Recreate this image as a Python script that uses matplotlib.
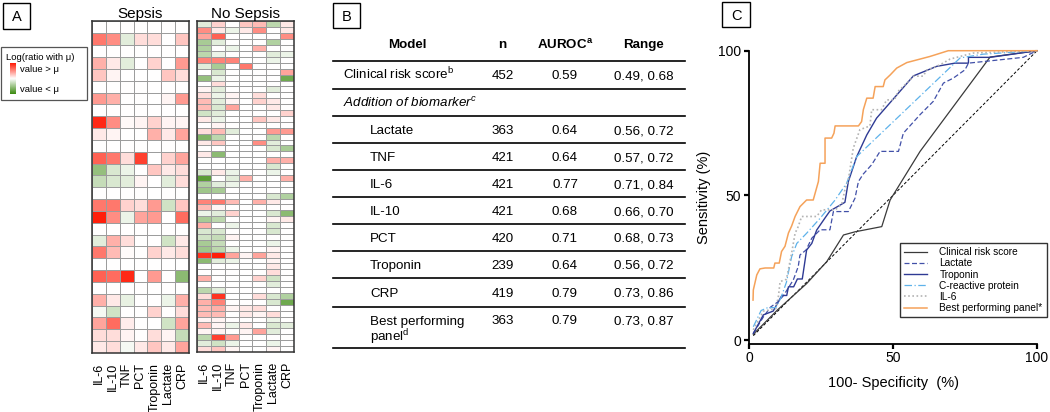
import numpy as np
import matplotlib
matplotlib.use('Agg')
import matplotlib.pyplot as plt
from matplotlib.colors import LinearSegmentedColormap
from matplotlib.patches import Rectangle

plt.rcParams['font.family'] = ['Liberation Sans', 'DejaVu Sans']
plt.rcParams['mathtext.fontset'] = 'custom'
plt.rcParams['mathtext.rm'] = 'Liberation Sans'
plt.rcParams['mathtext.it'] = 'Liberation Sans:italic'
plt.rcParams['mathtext.bf'] = 'Liberation Sans:bold'

# ---------------- data ----------------
markers = ['IL-6', 'IL-10', 'TNF', 'PCT', 'Troponin', 'Lactate', 'CRP']

# log ratio with mean, scaled to [-1, 1]
sepsis = [
    [0, 0, 0, 0, 0, 0, 0],
    [0.6, 0.5, -0.15, 0.15, 0.15, 0, 0.25],
    [0, 0, 0, 0, 0, 0, 0],
    [0.35, 0.1, -0.15, 0, 0.2, 0, 0.45],
    [0.25, 0.05, 0, 0, 0, 0.25, 0.15],
    [0, 0, 0, 0, 0, 0, 0],
    [0.45, 0.35, 0, 0, 0, 0.05, 0.45],
    [0, 0, 0, 0, 0, 0, 0],
    [0.95, 0.5, 0.03, 0.05, 0.2, 0.05, 0.05],
    [0.1, 0.05, 0, 0, 0.35, 0.1, 0.4],
    [0, 0, 0, 0, 0, 0, 0],
    [0.7, 0.6, 0.15, 0.85, 0, 0.2, 0.4],
    [-0.55, -0.2, -0.1, 0, 0.25, 0.1, 0.15],
    [-0.3, -0.2, -0.15, 0.05, 0, -0.15, 0.15],
    [0, 0, 0, 0, 0, 0, 0],
    [0.6, 0.6, 0.2, 0.15, 0.45, -0.25, 0.25],
    [1.0, 0.5, -0.1, 0.4, 0.45, 0, 0.65],
    [0, 0, 0, 0, 0, 0, 0],
    [-0.15, 0.35, 0.15, 0, 0, -0.25, 0.1],
    [0.6, 0.3, 0.02, 0, 0.2, 0.1, 0.15],
    [0, 0, 0, 0, 0, 0, 0],
    [0.7, 0.65, 0.95, 0, 0.45, 0, -0.6],
    [0, 0, 0, 0, 0, 0, 0],
    [0.35, 0.1, -0.12, 0, 0, -0.1, 0.35],
    [-0.05, -0.25, 0, 0, 0.2, 0, 0.15],
    [0.4, 0.65, 0.08, 0, 0, -0.25, 0.4],
    [0.15, 0.15, 0.05, 0, 0.15, 0.05, -0.3],
    [0.1, 0.15, -0.05, 0.1, 0.25, 0.1, 0.4],
]

no_sepsis = [
    [-0.15, 0.2, 0, 0.25, 0.3, -0.35, 0.1],
    [0.5, 0.1, -0.1, 0.1, 0.5, 0, 0.1],
    [0.4, 0.7, 0, 0, 0, 0, 0.5],
    [-0.45, -0.15, 0, 0, 0, -0.4, 0],
    [-0.4, 0, -0.1, 0, 0.35, 0, 0],
    [-0.35, -0.1, 0, 0, 0, -0.15, -0.1],
    [0.55, 0.55, 0.55, 0, 0, -0.1, 0],
    [-0.15, -0.45, 0, 0.6, 0, 0, 0],
    [0, -0.2, 0, 0, 0, 0, 0.4],
    [-0.55, -0.1, 0, 0, 0, 0, -0.75],
    [0, 0.15, 0, 0, 0, 0, 0],
    [0.05, -0.15, 0, 0, 0, -0.15, 0],
    [0.15, -0.1, 0.05, 0, 0.15, 0, 0],
    [0.3, -0.15, 0.05, 0, 0.2, 0.1, 0],
    [0.3, -0.2, 0.4, 0, 0, 0.1, 0],
    [-0.25, -0.15, 0, 0, 0, 0, 0.2],
    [0.1, -0.1, 0, 0, 0.25, 0.1, 0],
    [0, 0.05, 0, 0, 0, 0, 0],
    [0.15, 0.3, -0.15, 0, 0, 0.45, 0.45],
    [-0.65, -0.35, 0, 0, 0, -0.35, 0],
    [0.1, 0.25, 0, 0, 0.5, -0.15, 0],
    [0, 0, 0, 0, 0, -0.2, -0.45],
    [0.1, -0.6, 0, 0, 0, 0, 0],
    [0, 0, 0, 0, 0, 0.35, 0.35],
    [0, 0, 0, 0, 0, -0.2, 0],
    [-0.2, 0.1, -0.1, 0, 0, -0.1, 0],
    [-0.85, 0, -0.15, 0.35, 0, 0, 0.35],
    [-0.4, -0.15, -0.1, 0, 0, 0, 0],
    [-0.5, -0.45, 0, 0, 0, 0, 0],
    [0, 0, 0, 0, 0, -0.2, -0.4],
    [0.55, 0.6, 0.3, 0, 0.35, 0.1, 0],
    [0.3, 0.05, 0, 0, 0, 0, 0],
    [-0.1, -0.15, 0.2, 0, 0, -0.2, -0.6],
    [-0.45, -0.35, 0, 0, 0, 0.05, 0.1],
    [0.35, 0, -0.1, 0, 0, -0.2, 0],
    [-0.2, -0.2, 0, 0, 0, -0.2, 0],
    [-0.25, -0.3, 0.05, 0, 0, 0, 0],
    [-0.45, -0.3, 0, 0, 0, -0.1, 0],
    [-0.5, -0.35, -0.1, 0, 0, 0.05, 0],
    [0.9, 1.0, 0.4, 0.05, 0.4, 0.1, 0],
    [-0.6, -0.15, -0.1, 0, 0, 0.05, 0],
    [0, 0, 0, 0, 0, 0.1, 0],
    [0, 0, 0, 0, 0, 0.15, 0],
    [0.35, 0, 0, 0, 0.2, -0.25, 0],
    [0, 0, 0, 0, 0, -0.15, 0],
    [-0.35, -0.15, 0, 0, 0, 0, 0],
    [0.15, 0.9, 0, 0, 0.15, -0.2, -0.4],
    [0.35, 0.55, 0, 0, 0, -0.2, -0.75],
    [0.3, 0.35, 0.05, 0.1, 0.15, 0, 0],
    [0.3, 0.3, 0, 0.1, 0.05, 0.15, 0],
    [0.05, 0.05, 0, 0, 0, -0.1, 0],
    [0.3, 0.05, -0.1, 0.1, 0, -0.2, -0.15],
    [0.05, 0.05, 0, 0.05, 0.4, -0.15, 0],
    [-0.35, 0.85, 0.45, 0, 0, 0, 0],
    [-0.15, -0.25, -0.1, 0, 0, -0.1, 0],
    [0.15, 0.25, 0.05, 0, 0, 0.05, 0],
]

# table (panel B)
models = ['Clinical risk score', 'Addition of biomarker', 'Lactate', 'TNF', 'IL-6',
          'IL-10', 'PCT', 'Troponin', 'CRP', 'Best performing\npanel']
model_sup = ['b', 'c', '', '', '', '', '', '', '', 'd']
n_obs = [452, None, 363, 421, 421, 421, 420, 239, 419, 363]
auroc = [0.59, None, 0.64, 0.64, 0.77, 0.68, 0.71, 0.64, 0.79, 0.79]
ci_low = [0.49, None, 0.56, 0.57, 0.71, 0.66, 0.68, 0.56, 0.73, 0.73]
ci_high = [0.68, None, 0.72, 0.72, 0.84, 0.70, 0.73, 0.72, 0.86, 0.87]

# ROC curves (panel C): 100-specificity, sensitivity
clin_x = [1.5, 10, 20, 27, 32.8, 36.8, 46.1, 49, 59.4, 83.7, 100]
clin_y = [2, 10.5, 19.5, 27.1, 36.3, 37.4, 39.2, 48.4, 65.2, 97.8, 100]
lac_x = [1.5, 5, 7.5, 10.2, 12, 15.4, 17.1, 17.7, 19.8, 21.8, 24.7, 28.1, 29.3, 34.5, 36.8,
         38, 39.7, 42.6, 45.5, 51.9, 53.6, 59.4, 64, 67.5, 70.9, 75, 76.2, 95.2, 100]
lac_y = [2.3, 8, 11.4, 13.3, 15.4, 20.8, 25.4, 29.4, 31.1, 35.2, 38.1, 38.1, 44.4, 44.4, 49,
         54.8, 57.4, 60.6, 65.2, 65.2, 71.5, 77.9, 82.5, 88.8, 90.5, 93.4, 95.7, 97.7, 100]
trop_x = [1.5, 5, 8.4, 10.2, 11.4, 13.1, 13.7, 15.5, 16.8, 18.5, 20, 21.8, 23.5, 26.4,
          28.1, 33.3, 34.5, 37.4, 40.9, 44.3, 57.1, 65.2, 71.5, 76.2, 76.2, 83.7, 100]
trop_y = [2.3, 8.7, 10, 13.3, 15.4, 15.4, 18.4, 18.4, 21.1, 21.1, 31.1, 33.4, 38, 42.2,
          44.6, 47.6, 54.8, 63.4, 70.9, 76.7, 91.3, 94.6, 95.7, 95.7, 97.7, 97.7, 100]
crp_x = [1.5, 4.2, 6.5, 9.3, 11.1, 13, 14.8, 16.6, 20, 24.7, 29.9, 33.9, 37.4, 73.3, 81.3, 100]
crp_y = [4.6, 10.2, 11.2, 11.2, 14.6, 20, 28.8, 33.4, 36.9, 42.1, 48.4, 54.2, 63.4, 97.5, 98.8, 100]
il6_x = [1.5, 5, 9.3, 10.2, 10.8, 13, 14.8, 16, 17, 18.3, 23.5, 25.2, 30, 32.2, 33.3, 34.5,
         36.2, 38.5, 42, 42.6, 46, 47.8, 50.5, 51.8, 54.8, 57.1, 60.5, 61.6, 66.3, 69.8, 77.9, 100]
il6_y = [3.5, 10, 10.8, 15, 20.2, 21, 30, 36.9, 39, 42.7, 42.7, 45, 45, 47, 51.9, 55.4,
         66.3, 72.7, 74, 79.6, 79.6, 83, 83, 86, 88.8, 91.2, 91.2, 93.2, 95.1, 97.1, 99.2, 100]
best_x = [1.4, 1.5, 2.7, 3.8, 5.6, 8.6, 9.0, 10.5, 11.3, 12.5, 13.7, 14.8, 16.0, 17.7, 20.0,
          22.3, 24.1, 24.7, 26.4, 26.4, 28.7, 29.5, 29.9, 38.0, 39.1, 39.7, 40.9, 43.1, 43.8,
          46.6, 47.2, 49.0, 51.3, 54.8, 62.8, 69.2, 100]
best_y = [13.8, 17.3, 22.5, 24.6, 24.9, 24.9, 26.6, 26.6, 30.6, 32.4, 37.0, 39.4, 42.7, 46.1,
          48.4, 48.4, 54.8, 61.1, 61.1, 69.8, 69.8, 71.5, 74.0, 74.0, 75.5, 79.6, 83.6, 83.6,
          87.6, 87.6, 89.9, 91.6, 94.0, 95.9, 98.0, 100, 100]

# ---------------- figure ----------------
W, H = 1050, 412
fig = plt.figure(figsize=(W / 100, H / 100), dpi=100)


def px_rect(x0, y0, x1, y1):
    return [x0 / W, 1 - y1 / H, (x1 - x0) / W, (y1 - y0) / H]


cmap = LinearSegmentedColormap.from_list('gwr', ['#3f8c14', '#ffffff', '#ff1e0a'])


def heatmap(rect, values, title):
    ax = fig.add_axes(px_rect(*rect))
    data = np.array(values)
    ax.pcolormesh(data, cmap=cmap, vmin=-1, vmax=1, edgecolors='#9c9c9c', linewidth=0.6)
    ax.set_xlim(0, data.shape[1])
    ax.set_ylim(data.shape[0], 0)
    ax.set_xticks(np.arange(data.shape[1]) + 0.5)
    ax.set_xticklabels(markers, rotation=90, fontsize=9)
    ax.set_yticks([])
    ax.tick_params(axis='x', length=0, pad=7)
    for s in ax.spines.values():
        s.set_color('#333333')
        s.set_linewidth(1.1)
    ax.set_title(title, fontsize=11, pad=2.5)
    return ax


heatmap((92, 21.5, 189, 353), sepsis, 'Sepsis')
heatmap((197, 21.5, 294, 352), no_sepsis, 'No Sepsis')

# colour key for panel A
cax = fig.add_axes(px_rect(10, 63, 16, 94))
cax.imshow(np.linspace(1, -1, 40)[:, None], cmap=cmap, vmin=-1, vmax=1, aspect='auto')
cax.set_axis_off()

# ---------------- panel C: ROC ----------------
ax = fig.add_axes(px_rect(749, 50.7, 1037, 343.5))
ax.plot([1.5, 100], [1.5, 100], color='black', lw=0.7, ls=(0, (3, 2)), clip_on=False)
ax.plot(clin_x, clin_y, color='#3a3a3a', lw=0.9, label='Clinical risk score', clip_on=False)
ax.plot(lac_x, lac_y, color='#4150a8', lw=0.9, ls=(0, (4, 2)), label='Lactate', clip_on=False)
ax.plot(trop_x, trop_y, color='#2e3a94', lw=1.0, label='Troponin', clip_on=False)
ax.plot(crp_x, crp_y, color='#5eb2ea', lw=0.9, ls=(0, (6, 2, 1, 2)), label='C-reactive protein',
        clip_on=False)
ax.plot(il6_x, il6_y, color='#b3b3b3', lw=1.2, ls=(0, (1, 1.5)), label='IL-6', clip_on=False)
ax.plot(best_x, best_y, color='#f5a25a', lw=1.1, label='Best performing panel*', clip_on=False)
ax.set_xlim(0, 100)
ax.set_ylim(-1.2, 100)
ax.set_xticks([0, 50, 100])
ax.set_yticks([0, 50, 100])
ax.tick_params(labelsize=10, length=3.5, width=1.6, pad=2)
for side in ['top', 'right']:
    ax.spines[side].set_visible(False)
for side in ['left', 'bottom']:
    ax.spines[side].set_linewidth(1.3)
ax.set_xlabel('100- Specificity  (%)', fontsize=10.5, labelpad=8)
ax.set_ylabel('Sensitivity (%)', fontsize=10.5, labelpad=5)
leg = ax.legend(loc='upper left', bbox_to_anchor=(0.524, 0.343), borderaxespad=0,
                fontsize=7.3, handlelength=2.3, handletextpad=1.2, labelspacing=0.12,
                borderpad=0.4, fancybox=False, edgecolor='#333333', framealpha=1)
leg.get_frame().set_linewidth(1.0)

# ---------------- overlay: labels, legend box, table ----------------
ov = fig.add_axes([0, 0, 1, 1])
ov.set_xlim(0, W)
ov.set_ylim(H, 0)
ov.set_axis_off()
ov.patch.set_visible(False)

for lab, (x0, y0, x1, y1) in zip('ABC', [(3, 3, 30, 29), (333, 3, 360, 28), (722, 2, 750, 27)]):
    ov.add_patch(Rectangle((x0, y0), x1 - x0, y1 - y0, fill=False, lw=1.0, ec='black'))
    ov.text((x0 + x1) / 2, (y0 + y1) / 2 + 1, lab, ha='center', va='center', fontsize=10.5)

ov.add_patch(Rectangle((1, 47), 86, 53, fill=False, lw=0.9, ec='#555555'))
ov.text(6, 57, 'Log(ratio with μ)', fontsize=6.8, va='center')
ov.text(20, 69, 'value > μ', fontsize=6.8, va='center')
ov.text(20, 89, 'value < μ', fontsize=6.8, va='center')

# table
line_y = [60.5, 89, 116, 143, 170, 197, 224, 250.5, 278, 307, 348]
col_model, col_indent, col_n, col_auc, col_rng = 343, 370, 502.5, 565, 644
fs = 9.6
ov.text(407, 45, 'Model', ha='center', va='center', fontsize=fs, fontweight='bold')
ov.text(col_n, 45, 'n', ha='center', va='center', fontsize=fs, fontweight='bold')
ov.text(col_auc, 45, 'AUROC$^{\\mathbf{a}}$', ha='center', va='center', fontsize=fs,
        fontweight='bold')
ov.text(col_rng, 45, 'Range', ha='center', va='center', fontsize=fs, fontweight='bold')
for y in line_y:
    ov.plot([333, 685], [y, y], color='black', lw=1.2)

for i, name in enumerate(models):
    lines = name.split('\n')
    if len(lines) == 1:
        yb = (line_y[i] + line_y[i + 1]) / 2 + 4.5
    else:
        yb = line_y[i] + 13 + 4.5
    x = col_model if i < 2 else col_indent
    style = 'italic' if i == 1 else 'normal'
    for k, ln in enumerate(lines):
        txt = ln
        if k == len(lines) - 1 and model_sup[i]:
            sup = '\\mathit{%s}' % model_sup[i] if i == 1 else '\\mathregular{%s}' % model_sup[i]
            txt = ln + '$^{%s}$' % sup
        ov.text(x, yb + 17 * k, txt, ha='left', va='baseline', fontsize=fs, style=style)
    if n_obs[i] is not None:
        ov.text(col_n, yb, str(n_obs[i]), ha='center', va='baseline', fontsize=fs)
        ov.text(col_auc, yb, f'{auroc[i]:.2f}', ha='center', va='baseline', fontsize=fs)
        ov.text(col_rng, yb, f'{ci_low[i]:.2f}, {ci_high[i]:.2f}', ha='center',
                va='baseline', fontsize=fs)

fig.savefig('out.png', dpi=100)
